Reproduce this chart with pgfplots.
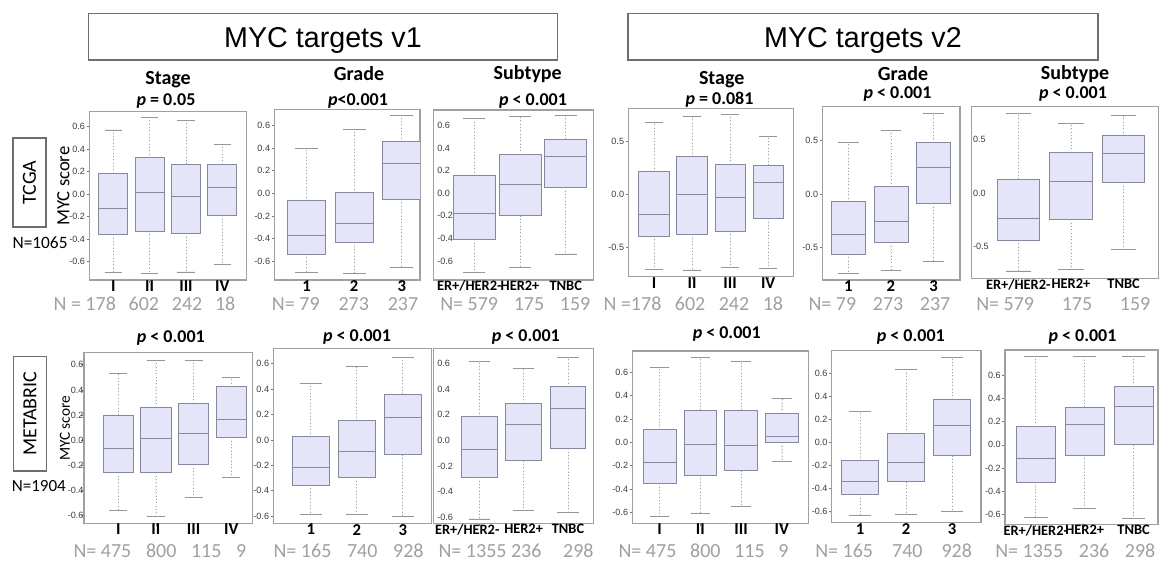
\documentclass[border=0pt]{standalone}
\usepackage{fontspec}
\setmainfont{Carlito}
\newfontfamily\arialf{Liberation Sans}
\usepackage{pgfplots}
\pgfplotsset{compat=1.18}
\usepgfplotslibrary{statistics}

\definecolor{boxfill}{RGB}{229,229,249}
\definecolor{boxdraw}{RGB}{135,135,158}
\definecolor{framegray}{RGB}{160,160,160}
\definecolor{whisk}{RGB}{160,160,160}
\definecolor{capc}{RGB}{150,150,150}
\definecolor{ngray}{RGB}{160,160,160}
\definecolor{ticktext}{RGB}{60,60,60}
\definecolor{tickc}{RGB}{120,120,120}
\definecolor{hdr}{RGB}{110,110,110}

\newcommand{\tickfont}{\arialf\fontsize{6.8}{7}\selectfont}
\newcommand{\catfont}{\bfseries\fontsize{12.5}{13}\selectfont}
\newcommand{\subfont}{\bfseries\fontsize{10.8}{11}\selectfont}
\newcommand{\titlefont}{\bfseries\fontsize{15}{16}\selectfont}
\newcommand{\pfont}{\bfseries\fontsize{13.5}{14}\selectfont}
\newcommand{\nfont}{\fontsize{15}{16}\selectfont}
\newcommand{\hdrfont}{\arialf\fontsize{21.5}{22}\selectfont}
\newcommand{\sidefont}{\fontsize{15}{16}\selectfont}
\newcommand{\Nrow}[4]{\node[anchor=base west, inner sep=0pt, text=ngray, font=\nfont] at (#1,#2) {\hbox to #3{#4}};}

\pgfplotsset{
  boxplot/draw/lower whisker/.code={%
    \draw[whisk, dotted, line width=0.5pt] (boxplot box cs:\pgfplotsboxplotvalue{lower quartile},0.5) -- (boxplot box cs:\pgfplotsboxplotvalue{lower whisker},0.5);
    \draw[capc, solid, line width=0.6pt] (boxplot whisker cs:\pgfplotsboxplotvalue{lower whisker},0) -- (boxplot whisker cs:\pgfplotsboxplotvalue{lower whisker},1);
  },
  boxplot/draw/upper whisker/.code={%
    \draw[whisk, dotted, line width=0.5pt] (boxplot box cs:\pgfplotsboxplotvalue{upper quartile},0.5) -- (boxplot box cs:\pgfplotsboxplotvalue{upper whisker},0.5);
    \draw[capc, solid, line width=0.6pt] (boxplot whisker cs:\pgfplotsboxplotvalue{upper whisker},0) -- (boxplot whisker cs:\pgfplotsboxplotvalue{upper whisker},1);
  },
  panel/.style={
    scale only axis, anchor=south west,
    axis line style={framegray, line width=0.9pt},
    xtick pos=left, ytick pos=left,
    tick align=outside, major tick length=2pt,
    tick style={draw=tickc, line width=0.5pt},
    yticklabel style={font=\tickfont, text=ticktext, inner sep=1pt},
    y tick label style={/pgf/number format/fixed, /pgf/number format/fixed zerofill, /pgf/number format/precision=1, /pgf/number format/assume math mode=true},
    xticklabel style={font=\catfont, text=black, inner sep=0pt, yshift=1.6pt},
    boxplot/draw direction=y,
    boxplot/box extend=0.8, boxplot/whisker extend=0.48,
  },
  stage/.style={xtick={1,2,3,4}, xticklabels={I,II,III,IV}},
  grade/.style={xtick={1,2,3}, xticklabels={1,2,3}},
  subtype/.style={xtick={1,2,3}, xticklabels={ER+/HER2-,HER2+,TNBC}, xticklabel style={font=\subfont}},
  inlab/.style={ytick style={draw=none}, yticklabel style={anchor=west, xshift=#1}},
  bx/.style={draw=boxdraw, fill=boxfill, line width=0.6pt, solid},
}

\begin{document}
\begin{tikzpicture}
\begin{scope}[x=0.75pt,y=-0.75pt]
\path[use as bounding box] (0,0) rectangle (1159,563);
% headers
\draw[hdr, line width=1pt] (88.3,13.3) rectangle (557.7,60);
\node[font=\hdrfont, anchor=base] at (323,48) {MYC targets v1};
\draw[hdr, line width=1pt] (628,13.3) rectangle (1098,60);
\node[font=\hdrfont, anchor=base] at (863,48) {MYC targets v2};
% side labels
\draw[hdr, line width=0.9pt] (13,138) rectangle (46,227);
\node[rotate=90, font=\sidefont] at (29.5,182.5) {TCGA};
\draw[hdr, line width=0.9pt] (13.3,356.7) rectangle (46.7,471);
\node[rotate=90, font=\sidefont] at (30,413.8) {METABRIC};
\node[rotate=90, font=\fontsize{14}{15}\selectfont] at (63.3,186) {MYC score};
\node[rotate=90, font=\fontsize{11.5}{12}\selectfont] at (65,428.3) {MYC score};
\node[anchor=base west, inner sep=0pt, font=\fontsize{13}{14}\selectfont] at (12.3,248.3) {N=1065};
\node[anchor=base west, inner sep=0pt, font=\fontsize{12.8}{14}\selectfont] at (11.5,491.7) {N=1904};
% titles top row
\node[font=\titlefont, anchor=base] at (168,85) {Stage};
\node[font=\pfont, anchor=base] at (166,106) {\textit{p} = 0.05};
\node[font=\titlefont, anchor=base] at (359,81) {Grade};
\node[font=\pfont, anchor=base] at (358,106) {\textit{p}<0.001};
\node[font=\titlefont, anchor=base] at (527.7,80) {Subtype};
\node[font=\pfont, anchor=base] at (533,106) {\textit{p} < 0.001};
\node[font=\titlefont, anchor=base] at (721.7,85) {Stage};
\node[font=\pfont, anchor=base] at (719.5,104.3) {\textit{p} = 0.081};
\node[font=\titlefont, anchor=base] at (903,80.7) {Grade};
\node[font=\pfont, anchor=base] at (897.5,98.3) {\textit{p} < 0.001};
\node[font=\titlefont, anchor=base] at (1075,80) {Subtype};
\node[font=\pfont, anchor=base] at (1073,98.3) {\textit{p} < 0.001};
% titles bottom row
\node[font=\pfont, anchor=base] at (170.8,342.3) {\textit{p} < 0.001};
\node[font=\pfont, anchor=base] at (357,341) {\textit{p} < 0.001};
\node[font=\pfont, anchor=base] at (525.8,341) {\textit{p} < 0.001};
\node[font=\pfont, anchor=base] at (726.7,338.3) {\textit{p} < 0.001};
\node[font=\pfont, anchor=base] at (910.8,341.7) {\textit{p} < 0.001};
\node[font=\pfont, anchor=base] at (1082.5,341) {\textit{p} < 0.001};
% N rows
\Nrow{53.3}{310}{136.3pt}{N = 178\hfill 602\hfill 242\hfill 18}
\Nrow{271.7}{310}{109.7pt}{N= 79\hfill 273\hfill 237}
\Nrow{440}{310}{112.5pt}{N= 579\hfill 175\hfill 159}
\Nrow{603.3}{310.5}{134.6pt}{N =178\hfill 602\hfill 242\hfill 18}
\Nrow{808.3}{310.5}{106.3pt}{N= 79\hfill 273\hfill 237}
\Nrow{976}{310.5}{130.5pt}{N= 579\hfill 175\hfill 159}
\Nrow{73.3}{557.5}{129.5pt}{N= 475\hfill 800\hfill 115\hfill 9}
\Nrow{273.3}{557.5}{112.5pt}{N= 165\hfill 740\hfill 928}
\Nrow{438.3}{557.5}{116.25pt}{N= 1355 236\hfill 298}
\Nrow{618.3}{557.5}{127.5pt}{N= 475\hfill 800\hfill 115\hfill 9}
\Nrow{815}{557.5}{117.5pt}{N= 165\hfill 740\hfill 928}
\Nrow{995}{557.5}{120pt}{N= 1355\hfill 236\hfill 298}
\end{scope}

% ===== TCGA, MYC targets v1 =====
\begin{axis}[panel, stage, at={(66.98pt,-210pt)}, width=118.05pt, height=126.23pt,
  xmin=0.34, xmax=4.67, ymin=-0.762, ymax=0.734, ytick={-0.6,-0.4,-0.2,0,0.2,0.4,0.6}]
\addplot[bx, boxplot prepared={draw position=1, lower whisker=-0.697, lower quartile=-0.356, median=-0.124, upper quartile=0.186, upper whisker=0.572}] coordinates {};
\addplot[bx, boxplot prepared={draw position=2, lower whisker=-0.703, lower quartile=-0.326, median=0.018, upper quartile=0.325, upper whisker=0.684}] coordinates {};
\addplot[bx, boxplot prepared={draw position=3, lower whisker=-0.690, lower quartile=-0.347, median=-0.015, upper quartile=0.269, upper whisker=0.660}] coordinates {};
\addplot[bx, boxplot prepared={draw position=4, lower whisker=-0.620, lower quartile=-0.187, median=0.065, upper quartile=0.267, upper whisker=0.444}] coordinates {};
\end{axis}

\begin{axis}[panel, grade, at={(205.73pt,-210pt)}, width=109.28pt, height=128.03pt,
  xmin=0.318, xmax=3.385, ymin=-0.767, ymax=0.743, ytick={-0.6,-0.4,-0.2,0,0.2,0.4,0.6}]
\addplot[bx, boxplot prepared={draw position=1, lower whisker=-0.699, lower quartile=-0.537, median=-0.375, upper quartile=-0.065, upper whisker=0.398}] coordinates {};
\addplot[bx, boxplot prepared={draw position=2, lower whisker=-0.708, lower quartile=-0.434, median=-0.265, upper quartile=0.005, upper whisker=0.566}] coordinates {};
\addplot[bx, boxplot prepared={draw position=3, lower whisker=-0.658, lower quartile=-0.050, median=0.262, upper quartile=0.457, upper whisker=0.687}] coordinates {};
\end{axis}

\begin{axis}[panel, subtype, xticklabels={\hspace*{-7.5pt}ER+/HER2-,HER2+,TNBC}, inlab=3.8pt, at={(324.98pt,-210pt)}, width=120pt, height=127.5pt,
  xmin=0.103, xmax=3.604, ymin=-0.769, ymax=0.738, ytick={-0.6,-0.4,-0.2,0,0.2,0.4,0.6},
  boxplot/box extend=0.92]
\addplot[bx, boxplot prepared={draw position=1, lower whisker=-0.700, lower quartile=-0.408, median=-0.177, upper quartile=0.156, upper whisker=0.665}] coordinates {};
\addplot[bx, boxplot prepared={draw position=2, lower whisker=-0.659, lower quartile=-0.199, median=0.080, upper quartile=0.346, upper whisker=0.679}] coordinates {};
\addplot[bx, boxplot prepared={draw position=3, lower whisker=-0.538, lower quartile=0.053, median=0.325, upper quartile=0.481, upper whisker=0.688}] coordinates {};
\end{axis}

% ===== TCGA, MYC targets v2 =====
\begin{axis}[panel, stage, at={(471.23pt,-207.53pt)}, width=123.75pt, height=126.3pt,
  xmin=0.325, xmax=4.66, ymin=-0.772, ymax=0.806, ytick={-0.5,0,0.5}]
\addplot[bx, boxplot prepared={draw position=1, lower whisker=-0.703, lower quartile=-0.391, median=-0.187, upper quartile=0.212, upper whisker=0.675}] coordinates {};
\addplot[bx, boxplot prepared={draw position=2, lower whisker=-0.709, lower quartile=-0.375, median=0.000, upper quartile=0.352, upper whisker=0.727}] coordinates {};
\addplot[bx, boxplot prepared={draw position=3, lower whisker=-0.684, lower quartile=-0.344, median=-0.028, upper quartile=0.281, upper whisker=0.750}] coordinates {};
\addplot[bx, boxplot prepared={draw position=4, lower whisker=-0.694, lower quartile=-0.225, median=0.112, upper quartile=0.275, upper whisker=0.540}] coordinates {};
\end{axis}

\begin{axis}[panel, grade, at={(616.73pt,-210pt)}, width=103.28pt, height=130.28pt,
  xmin=0.39, xmax=3.62, ymin=-0.806, ymax=0.822, ytick={-0.5,0,0.5}]
\addplot[bx, boxplot prepared={draw position=1, lower whisker=-0.743, lower quartile=-0.562, median=-0.375, upper quartile=-0.072, upper whisker=0.485}] coordinates {};
\addplot[bx, boxplot prepared={draw position=2, lower whisker=-0.720, lower quartile=-0.453, median=-0.260, upper quartile=0.068, upper whisker=0.593}] coordinates {};
\addplot[bx, boxplot prepared={draw position=3, lower whisker=-0.628, lower quartile=-0.088, median=0.250, upper quartile=0.484, upper whisker=0.756}] coordinates {};
\end{axis}

\begin{axis}[panel, subtype, inlab=1.8pt, at={(728.78pt,-208.73pt)}, width=139.95pt, height=128.7pt,
  xmin=0.116, xmax=3.66, ymin=-0.80, ymax=0.809, ytick={-0.5,0,0.5}]
\addplot[bx, boxplot prepared={draw position=1, lower whisker=-0.731, lower quartile=-0.440, median=-0.237, upper quartile=0.131, upper whisker=0.747}] coordinates {};
\addplot[bx, boxplot prepared={draw position=2, lower whisker=-0.715, lower quartile=-0.247, median=0.106, upper quartile=0.381, upper whisker=0.653}] coordinates {};
\addplot[bx, boxplot prepared={draw position=3, lower whisker=-0.528, lower quartile=0.100, median=0.372, upper quartile=0.537, upper whisker=0.725}] coordinates {};
\end{axis}

% ===== METABRIC, MYC targets v1 =====
\begin{axis}[panel, stage, at={(63pt,-392.48pt)}, width=126.23pt, height=127.95pt,
  xmin=0.09, xmax=4.56, ymin=-0.66, ymax=0.696, ytick={-0.6,-0.4,-0.2,0,0.2,0.4,0.6},
  yticklabel style={xshift=2.8pt}]
\addplot[bx, boxplot prepared={draw position=1, lower whisker=-0.555, lower quartile=-0.255, median=-0.064, upper quartile=0.200, upper whisker=0.532}] coordinates {};
\addplot[bx, boxplot prepared={draw position=2, lower whisker=-0.603, lower quartile=-0.255, median=0.015, upper quartile=0.261, upper whisker=0.638}] coordinates {};
\addplot[bx, boxplot prepared={draw position=3, lower whisker=-0.454, lower quartile=-0.192, median=0.055, upper quartile=0.293, upper whisker=0.638}] coordinates {};
\addplot[bx, boxplot prepared={draw position=4, lower whisker=-0.295, lower quartile=0.023, median=0.166, upper quartile=0.425, upper whisker=0.500}] coordinates {};
\end{axis}

\begin{axis}[panel, grade, at={(204.98pt,-392.48pt)}, width=118.8pt, height=131.25pt,
  xmin=0.185, xmax=3.63, ymin=-0.656, ymax=0.72, ytick={-0.6,-0.4,-0.2,0,0.2,0.4,0.6}]
\addplot[bx, boxplot prepared={draw position=1, lower whisker=-0.586, lower quartile=-0.355, median=-0.215, upper quartile=0.026, upper whisker=0.447}] coordinates {};
\addplot[bx, boxplot prepared={draw position=2, lower whisker=-0.586, lower quartile=-0.294, median=-0.087, upper quartile=0.150, upper whisker=0.578}] coordinates {};
\addplot[bx, boxplot prepared={draw position=3, lower whisker=-0.599, lower quartile=-0.118, median=0.176, upper quartile=0.360, upper whisker=0.649}] coordinates {};
\end{axis}

\begin{axis}[panel, subtype, xticklabels={\hspace*{-18pt}ER+/HER2-,HER2+,TNBC}, inlab=3.8pt, at={(324.98pt,-392.48pt)}, width=120pt, height=131.25pt,
  xmin=-0.034, xmax=3.57, ymin=-0.648, ymax=0.72, ytick={-0.6,-0.4,-0.2,0,0.2,0.4,0.6}]
\addplot[bx, boxplot prepared={draw position=1, lower whisker=-0.614, lower quartile=-0.288, median=-0.069, upper quartile=0.186, upper whisker=0.617}] coordinates {};
\addplot[bx, boxplot prepared={draw position=2, lower whisker=-0.544, lower quartile=-0.158, median=0.127, upper quartile=0.291, upper whisker=0.565}] coordinates {};
\addplot[bx, boxplot prepared={draw position=3, lower whisker=-0.565, lower quartile=-0.061, median=0.252, upper quartile=0.421, upper whisker=0.648}] coordinates {};
\end{axis}

% ===== METABRIC, MYC targets v2 =====
\begin{axis}[panel, stage, at={(474.23pt,-392.48pt)}, width=132pt, height=129.23pt,
  xmin=0.33, xmax=4.65, ymin=-0.694, ymax=0.782, ytick={-0.6,-0.4,-0.2,0,0.2,0.4,0.6}]
\addplot[bx, boxplot prepared={draw position=1, lower whisker=-0.632, lower quartile=-0.351, median=-0.171, upper quartile=0.111, upper whisker=0.643}] coordinates {};
\addplot[bx, boxplot prepared={draw position=2, lower whisker=-0.609, lower quartile=-0.280, median=-0.017, upper quartile=0.277, upper whisker=0.728}] coordinates {};
\addplot[bx, boxplot prepared={draw position=3, lower whisker=-0.546, lower quartile=-0.243, median=-0.029, upper quartile=0.277, upper whisker=0.691}] coordinates {};
\addplot[bx, boxplot prepared={draw position=4, lower whisker=-0.166, lower quartile=0.000, median=0.048, upper quartile=0.248, upper whisker=0.377}] coordinates {};
\end{axis}

\begin{axis}[panel, grade, at={(623.78pt,-392.03pt)}, width=111.98pt, height=129pt,
  xmin=0.385, xmax=3.63, ymin=-0.697, ymax=0.794, ytick={-0.6,-0.4,-0.2,0,0.2,0.4,0.6}]
\addplot[bx, boxplot prepared={draw position=1, lower whisker=-0.631, lower quartile=-0.451, median=-0.336, upper quartile=-0.159, upper whisker=0.271}] coordinates {};
\addplot[bx, boxplot prepared={draw position=2, lower whisker=-0.625, lower quartile=-0.341, median=-0.173, upper quartile=0.078, upper whisker=0.633}] coordinates {};
\addplot[bx, boxplot prepared={draw position=3, lower whisker=-0.602, lower quartile=-0.116, median=0.150, upper quartile=0.373, upper whisker=0.737}] coordinates {};
\end{axis}

\begin{axis}[panel, subtype, at={(753.75pt,-393.23pt)}, width=114.75pt, height=130.73pt,
  xmin=0.37, xmax=3.5, ymin=-0.687, ymax=0.82, ytick={-0.6,-0.4,-0.2,0,0.2,0.4,0.6}]
\addplot[bx, boxplot prepared={draw position=1, lower whisker=-0.626, lower quartile=-0.323, median=-0.115, upper quartile=0.159, upper whisker=0.765}] coordinates {};
\addplot[bx, boxplot prepared={draw position=2, lower whisker=-0.548, lower quartile=-0.087, median=0.173, upper quartile=0.326, upper whisker=0.765}] coordinates {};
\addplot[bx, boxplot prepared={draw position=3, lower whisker=-0.635, lower quartile=0.000, median=0.332, upper quartile=0.505, upper whisker=0.765}] coordinates {};
\end{axis}
\end{tikzpicture}
\end{document}
